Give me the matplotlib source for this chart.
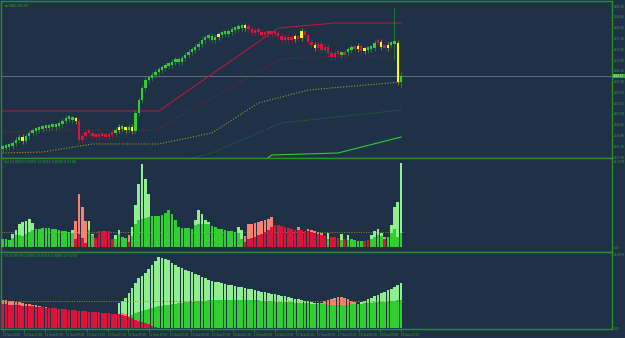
import numpy as np
import matplotlib
matplotlib.use("Agg")
import matplotlib.pyplot as plt

# ---------------- data ----------------
# candle closes (open = previous close)
open0 = 2540.33
closes = [2540.67, 2541.00, 2541.33, 2542.33, 2543.33, 2544.33, 2543.00, 2544.67, 2545.67, 2546.33,
          2546.67, 2547.00, 2547.33, 2547.33, 2548.00, 2547.67, 2548.00, 2548.67, 2549.67, 2550.67,
          2550.33, 2550.00, 2549.67, 2543.33, 2544.67, 2546.00, 2545.67, 2544.67, 2544.33, 2544.67,
          2544.67, 2544.33, 2545.00, 2545.67, 2546.67, 2547.67, 2547.00, 2546.67, 2547.67, 2546.33,
          2552.33, 2556.67, 2560.67, 2563.33, 2564.00, 2565.00, 2566.00, 2566.67, 2567.33, 2568.00,
          2568.33, 2569.33, 2570.00, 2569.33, 2570.67, 2571.67, 2572.67, 2573.33, 2574.33, 2575.33,
          2576.67, 2577.33, 2578.00, 2576.67, 2577.67, 2578.33, 2579.00, 2578.67, 2579.33, 2580.00,
          2580.33, 2581.00, 2580.67, 2581.33, 2580.33, 2579.00, 2580.00, 2579.33, 2578.33, 2579.00,
          2578.67, 2578.67, 2579.00, 2578.00, 2576.67, 2577.67, 2576.67, 2577.67, 2577.00, 2577.33,
          2579.67, 2578.33, 2576.00, 2575.00, 2574.00, 2575.33, 2573.33, 2574.33, 2572.33, 2571.00,
          2572.33, 2572.00, 2571.67, 2572.67, 2573.33, 2574.00, 2573.67, 2574.67, 2573.00, 2573.33,
          2573.67, 2574.00, 2575.67, 2576.00, 2574.33, 2574.00, 2575.00, 2575.33, 2575.67, 2562.67,
          2564.67]
candle_runs = [("G", 6), ("Y", 1), ("G", 15), ("Y", 1), ("R", 11), ("G", 1), ("Y", 1), ("G", 1),
               ("Y", 1), ("G", 1), ("Y", 1), ("G", 25), ("Y", 1), ("G", 7), ("Y", 1), ("R", 14),
               ("Y", 1), ("R", 1), ("Y", 1), ("R", 3), ("Y", 1), ("R", 7), ("G", 1), ("R", 1),
               ("G", 2), ("R", 1), ("Y", 1), ("R", 1), ("Y", 1), ("G", 3), ("R", 1), ("Y", 1),
               ("R", 1), ("Y", 1), ("G", 2), ("Y", 1), ("G", 1)]
spikes = {118: (2587.33, 2570.00), 120: (2566.00, 2560.67)}

# envelope lines on the price chart (bar index, price)
red_line_x = [0, 47, 83, 100, 120]
red_line_y = [2553.00, 2553.00, 2580.67, 2582.33, 2582.33]
red_dot_x = [0, 18, 46, 84, 102, 120]
red_dot_y = [2546.00, 2546.67, 2546.67, 2570.33, 2571.33, 2571.33]
olive_x = [0, 12, 27, 47, 63, 77, 92, 120]
olive_y = [2539.00, 2539.33, 2542.00, 2542.00, 2545.67, 2555.67, 2560.00, 2562.67]
dimgreen_x = [48, 63, 84, 120]
dimgreen_y = [2535.00, 2539.00, 2549.00, 2553.33]
green_x = [79, 81, 101, 120]
green_y = [2536.67, 2538.33, 2539.00, 2544.33]

price_top = 2588.00
price_step = 3.60

# volume-style panel
p2_runs = [("G", 22), ("R", 4), ("G", 2), ("R", 6), ("G", 4), ("R", 1), ("G", 34), ("R", 25),
           ("G", 1), ("R", 3), ("G", 1), ("R", 1), ("G", 5), ("R", 2), ("G", 4), ("R", 1), ("G", 5)]
p2_outer = [8, 8, 7, 13, 17, 23, 25, 26.3, 28.7, 24.3,
            18, 18.7, 19, 19.3, 19.7, 18.7, 18, 17, 16.3, 16,
            15.3, 17, 26.3, 53, 40.3, 26.3, 26.3, 13, 9.7, 16,
            16, 16, 16, 8, 12, 17, 10.3, 9.3, 12, 20.3,
            42, 63, 83.7, 68.7, 53.7, 31, 31, 31, 32, 34.3,
            37, 33, 27.7, 20.3, 19.7, 19, 19, 18.7, 27, 37,
            33.7, 27, 25.3, 21, 20.3, 18.7, 18, 17, 16.3, 16.3,
            15.3, 20.3, 17, 11, 23, 23.7, 24.3, 25.3, 26.3, 27.7,
            28.7, 30.3, 22, 22, 21, 20.3, 19.3, 18.7, 17.7, 20.3,
            17, 16.5, 18, 17, 16, 15, 14, 11, 14, 10,
            10, 9, 13, 8, 12, 8, 7, 6, 6, 6,
            7, 12, 16, 18, 14, 10, 10, 22, 40, 45,
            84]
p2_inner = [8, 8, 7, 9.7, 12, 12, 11, 13, 15.3, 17,
            18, 18.7, 19, 19.3, 19.7, 18.7, 18, 17, 16.3, 16,
            15.3, 14.3, 8.7, 13.7, 9.7, 4, 17, 12, 9.7, 16,
            16, 16, 16, 8, 8, 13, 10.3, 9.3, 5, 11,
            23.7, 27.7, 28.7, 29.7, 30.3, 31, 31, 31, 32, 34.3,
            37, 33, 27.7, 20.3, 19.7, 19, 19, 18.7, 22, 23.7,
            23.7, 23.7, 23, 21, 20.3, 18.7, 18, 17, 16.3, 16.3,
            15.3, 14.3, 8.7, 5.3, 8.7, 9.7, 10.3, 12, 13, 15.3,
            17, 20.3, 22, 22, 21, 20.3, 19.3, 18.7, 17.7, 17,
            17, 16.5, 16, 15, 14, 13, 12, 11, 8, 10,
            10, 9, 7, 8, 7, 8, 7, 6, 6, 6,
            7, 8, 10, 12, 11, 8, 10, 14, 18, 10,
            14]
p2_level = 15.6

# directional panel
p3_green_light = ([0] * 35 +
                  [25, 27, 30, 35, 40, 45, 50, 52.5, 55, 59, 63, 67, 71, 70, 69, 68, 65.5, 63, 61,
                   59.7, 58.5, 57.2, 56, 54.3, 52.7, 51, 49.7, 48.3, 47,
                   46.3, 45.6, 44.9, 44.2, 43.5, 42.8, 42.1, 41.4, 40.7, 40.0, 39.3, 38.6, 37.9,
                   37.2, 36.5, 35.8, 35.1, 34.4, 33.7, 33.0, 32.3, 31.6, 30.9, 30.2, 29.5, 28.8,
                   28.1, 27.4, 26.7, 26.0, 25.3, 24.6] +
                  [0] * 11 +
                  [24.5, 26, 27.5, 29, 30.5, 32, 33.5, 35, 36.5, 38, 39.5, 41.5, 43.5, 45])
p3_green_dark = ([0] * 36 +
                 [6, 9, 11.5, 13.5, 15, 16.5, 17.5, 18.5, 19.5, 20.3, 21, 21.7, 22.3, 22.9, 23.4,
                  23.9, 24.4, 24.8, 25.2, 25.6, 26, 26.3, 26.6, 26.9, 27.2, 27.4, 27.6, 27.8, 28,
                  28.1, 28.2, 28.3, 28.3, 28.4, 28.4, 28.4, 28.3, 28.2, 28.1, 28, 27.9, 27.7, 27.5,
                  27.3, 27.1, 26.9, 26.7, 26.5, 26.3, 26.1, 25.9, 25.7, 25.5, 25.3, 25.1, 24.9,
                  24.7, 24.5, 24.3, 24.1, 23.9, 23.7, 23.5, 23.4, 23.3, 23.2, 23.2, 23.3, 23.4,
                  23.6, 23.8, 24.1, 24.4, 24.7, 25, 25.3, 25.6, 25.9, 26.2, 26.5, 26.8, 27.1, 27.4,
                  27.7, 28])
p3_red_light = ([28.5, 28, 27.4, 26.8, 26.2, 25.6, 25, 24.4, 23.8, 23.2, 22.6, 22, 21.4, 20.8, 20.3,
                 19.9, 19.6, 19.3, 19.0, 18.7, 18.4, 18.2, 17.9, 17.5, 17.1, 16.8, 16.5, 16.2,
                 15.9, 15.6, 15.2, 14.9, 14.6, 14.3, 14.0, 13.6, 15, 14, 12.5, 10.5,
                 8.4, 7.2, 6.0, 4.8, 3.6, 2.4, 1.3, 0.4] +
                [0] * 48 +
                [25.5, 27, 28.5, 29.5, 30.5, 31, 31.5, 30.5, 29, 27.5, 26] +
                [0] * 14)
p3_red_dark = ([24, 23.7, 23.5, 23.2, 22.9, 22.7, 22.4, 22.1, 21.8, 21.6,
                21.3, 21.0, 20.7, 20.4, 20.1, 19.9, 19.6, 19.3, 19.0, 18.7,
                18.4, 18.2, 17.9, 17.5, 17.1, 16.8, 16.5, 16.2, 15.9, 15.6,
                15.2, 14.9, 14.6, 14.3, 14.0, 13.6, 13.0, 12.0, 10.8, 9.6,
                8.4, 7.2, 6.0, 4.8, 3.6, 2.4, 1.3, 0.4] + [0] * 73)
p3_level = 27

time_labels = ["10 Sep 2024", "10 Sep 17:00", "11 Sep 01:00", "11 Sep 09:00", "11 Sep 17:00",
               "12 Sep 01:00", "12 Sep 09:00", "12 Sep 17:00", "13 Sep 01:00", "13 Sep 09:00",
               "13 Sep 17:00", "16 Sep 01:00", "16 Sep 09:00", "16 Sep 17:00", "17 Sep 01:00",
               "17 Sep 09:00", "17 Sep 17:00", "18 Sep 01:00", "18 Sep 09:00", "18 Sep 17:00"]

# ---------------- styling ----------------
BG = "#1e3146"
FRAME = "#2b8f2b"
TXT = "#3a9e3a"
LIME = "#32cd32"
LIGHTGREEN = "#90ee90"
CRIMSON = "#dc143c"
SALMON = "#fa8072"
body_col = {"G": LIME, "R": CRIMSON, "Y": "#ffff00"}
wick_col = {"G": "#2f7f36", "R": "#8a2038", "Y": "#8c8c2a"}
FS = 2.0

W, H = 625, 338
fig = plt.figure(figsize=(W / 100, H / 100), dpi=100, facecolor=BG)


def rect(top, bottom):
    return [1 / W, (H - bottom) / H, 611 / W, (bottom - top) / H]


ax1 = fig.add_axes(rect(1, 158))
ax2 = fig.add_axes(rect(158, 252))
ax3 = fig.add_axes(rect(252, 329))

n = len(closes)
idx = np.arange(n)
for ax in (ax1, ax2, ax3):
    ax.set_facecolor(BG)
    ax.set_xlim(-0.5, 183.5)
    for s in ax.spines.values():
        s.set_color(FRAME)
        s.set_linewidth(1.0)
    ax.yaxis.tick_right()
    ax.tick_params(axis="y", length=1.0, width=0.4, pad=0.6, labelsize=FS, colors=TXT)
    ax.tick_params(axis="x", length=0)
ax1.set_xticks([])
ax2.set_xticks([])

# ---- price panel ----
colors = "".join(c * k for c, k in candle_runs)
opens = [open0] + closes[:-1]
lo_body = np.minimum(opens, closes)
hi_body = np.maximum(opens, closes)
highs = hi_body + 1.0
lows = lo_body - 1.0
for i, (h, l) in spikes.items():
    highs[i], lows[i] = h, l

ax1.plot(red_dot_x, red_dot_y, color="#7a2a3c", lw=0.7, ls=(0, (1, 1.5)), zorder=2)
ax1.plot(olive_x, olive_y, color="#9a9a2a", lw=0.8, ls=(0, (1, 1.5)), zorder=2)
ax1.plot(dimgreen_x, dimgreen_y, color="#2f6e3a", lw=0.7, ls=(0, (1, 1.2)), zorder=2)
ax1.plot(green_x, green_y, color=LIME, lw=0.8, zorder=2)
ax1.plot(red_line_x, red_line_y, color="#b8183c", lw=0.8, zorder=2)
ax1.axhline(closes[-1], color="#6c7c84", lw=0.6, zorder=1)

ax1.vlines(idx, lows, highs, colors=[wick_col[c] for c in colors], lw=0.6, zorder=3)
ax1.bar(idx, np.maximum(hi_body - lo_body, 0.9), bottom=lo_body, width=0.72,
        color=[body_col[c] for c in colors], lw=0, zorder=4)

ax1.set_ylim(2537.33, 2589.67)
ticks = [price_top - price_step * k for k in range(15)]
ax1.set_yticks(ticks)
ax1.set_yticklabels([f"{t:.2f}" for t in ticks])
ax1.text(1.002, closes[-1], f"{closes[-1]:.2f}", transform=ax1.get_yaxis_transform(),
         fontsize=FS, color="#d8ffd8", va="center", ha="left",
         bbox=dict(boxstyle="square,pad=0.15", fc="#2fae2f", ec="none"))
ax1.text(0.006, 0.985, "\u25BC XAUUSD,H1", transform=ax1.transAxes, fontsize=FS + 0.3,
         color=TXT, va="top", ha="left")

# ---- panel 2 ----
side = np.array(list("".join(c * k for c, k in p2_runs)))
outer = np.array(p2_outer)
inner = np.array(p2_inner)
g = side == "G"
ax2.axhline(p2_level, xmax=121 / 184, color="#8c8c22", lw=0.7, ls=(0, (1, 1.5)), zorder=1)
ax2.bar(idx[g], outer[g], width=0.8, color=LIGHTGREEN, lw=0, zorder=2)
ax2.bar(idx[~g], outer[~g], width=0.8, color=SALMON, lw=0, zorder=2)
ax2.bar(idx[g], inner[g], width=0.8, color=LIME, lw=0, zorder=3)
ax2.bar(idx[~g], inner[~g], width=0.8, color=CRIMSON, lw=0, zorder=3)
ax2.set_ylim(-4.7, 89.3)
ax2.set_yticks([86, 0])
ax2.set_yticklabels(["24.1324", "0.00"])
ax2.text(0.005, 0.975, "Vol 24.8069 0.0000 11.5035 0.0000 8.0788", transform=ax2.transAxes,
         fontsize=FS + 0.3, color=TXT, va="top", ha="left")

# ---- panel 3 ----
ax3.bar(idx, p3_green_light, width=0.8, color=LIGHTGREEN, lw=0, zorder=2)
ax3.bar(idx, p3_red_light, width=0.8, color=SALMON, lw=0, zorder=2)
ax3.bar(idx, p3_green_dark, width=0.8, color=LIME, lw=0, zorder=3)
ax3.bar(idx, p3_red_dark, width=0.8, color=CRIMSON, lw=0, zorder=4)
ax3.axhline(p3_level, xmax=121 / 184, color="#8c8c22", lw=0.7, ls=(0, (1, 1.5)), zorder=5)
ax3.set_ylim(-1, 76)
ax3.set_yticks([73, 0])
ax3.set_yticklabels(["30.8579", "0.00"])
ax3.text(0.005, 0.975, "DI 30.8579 0.0000 17.8714 0.0000 17.5000", transform=ax3.transAxes,
         fontsize=FS + 0.3, color=TXT, va="top", ha="left")

tpos = np.linspace(0, n - 1, len(time_labels))
ax3.set_xticks(tpos)
ax3.set_xticklabels(time_labels, ha="left")
ax3.tick_params(axis="x", length=2, width=0.4, pad=1, labelsize=FS, colors=TXT)

fig.savefig("out.png", dpi=100, facecolor=BG)
